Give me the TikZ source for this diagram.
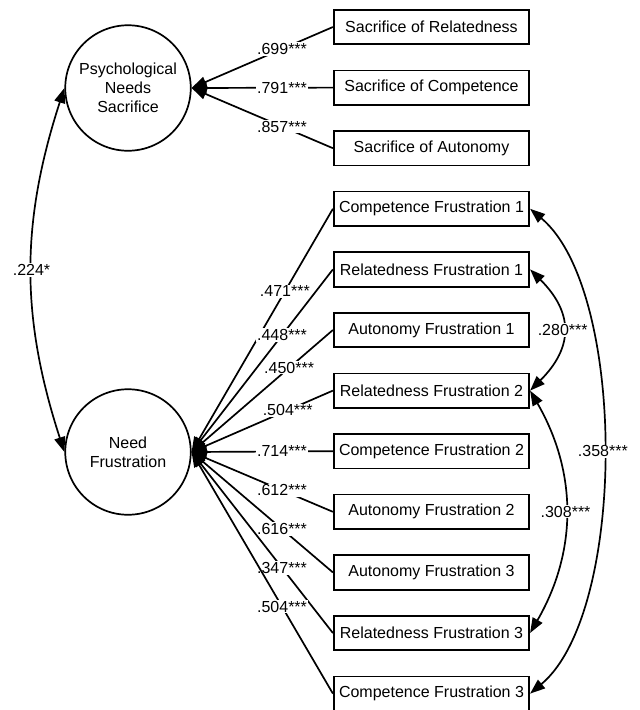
\documentclass[tikz,border=0pt]{standalone}
\usepackage{fontspec}
\setmainfont{Liberation Sans}
\usetikzlibrary{shapes.geometric, arrows.meta, positioning}

\begin{document}
\begin{tikzpicture}[
    x=1pt, y=1pt,
    node distance=24.4pt,
    font=\fontsize{16pt}{19pt}\selectfont,
    >={Triangle[length=15pt, width=11pt]},
    latent/.style={circle, draw, line width=1.7pt, minimum size=125.5pt, inner sep=0pt, align=center},
    item/.style={rectangle, draw, line width=1.7pt, minimum width=195.5pt, minimum height=34.5pt},
    coef/.style={fill=white, inner sep=1pt, pos=0.36},
    arrow/.style={->, line width=1.7pt},
    cov/.style={<->, line width=1.7pt}
]
\useasboundingbox (0,0) rectangle (640,-710);

\node[latent] (pns) at (128,-88) {Psychological\\Needs\\Sacrifice};
\node[latent] (nf) at (128,-452) {Need\\Frustration};

\node[item] (sr) at (431.5,-27) {Sacrifice of Relatedness};
\node[item, below=of sr] (sc) {Sacrifice of Competence};
\node[item, below=of sc] (sa) {Sacrifice of Autonomy};
\node[item, below=of sa] (cf1) {Competence Frustration 1};
\node[item, below=of cf1] (rf1) {Relatedness Frustration 1};
\node[item, below=of rf1] (af1) {Autonomy Frustration 1};
\node[item, below=of af1] (rf2) {Relatedness Frustration 2};
\node[item, below=of rf2] (cf2) {Competence Frustration 2};
\node[item, below=of cf2] (af2) {Autonomy Frustration 2};
\node[item, below=of af2] (af3) {Autonomy Frustration 3};
\node[item, below=of af3] (rf3) {Relatedness Frustration 3};
\node[item, below=of rf3] (cf3) {Competence Frustration 3};

\draw[arrow] (sr.west) -- node[coef] {.699***} (pns.east);
\draw[arrow] (sc.west) -- node[coef] {.791***} (pns.east);
\draw[arrow] (sa.west) -- node[coef] {.857***} (pns.east);

\draw[arrow] (cf1.west) -- node[coef, pos=0.34] {.471***} (nf.east);
\draw[arrow] (rf1.west) -- node[coef] {.448***} (nf.east);
\draw[arrow] (af1.west) -- node[coef, pos=0.31] {.450***} (nf.east);
\draw[arrow] (rf2.west) -- node[coef, pos=0.32] {.504***} (nf.east);
\draw[arrow] (cf2.west) -- node[coef] {.714***} (nf.east);
\draw[arrow] (af2.west) -- node[coef] {.612***} (nf.east);
\draw[arrow] (af3.west) -- node[coef] {.616***} (nf.east);
\draw[arrow] (rf3.west) -- node[coef] {.347***} (nf.east);
\draw[arrow] (cf3.west) -- node[coef] {.504***} (nf.east);

\draw[cov] (pns.west) to[bend right=18] node[coef, pos=0.5] {.224*} (nf.west);
\draw[cov] (rf1.east) to[out=-45, in=45, looseness=1.3] node[coef, pos=0.5] {.280***} (rf2.east);
\draw[cov] (rf2.east) to[out=-60, in=60] node[coef, pos=0.5] {.308***} (rf3.east);
\draw[cov] (cf1.east) to[out=-40, in=40, looseness=0.67] node[coef, pos=0.5] {.358***} (cf3.east);

\end{tikzpicture}
\end{document}
